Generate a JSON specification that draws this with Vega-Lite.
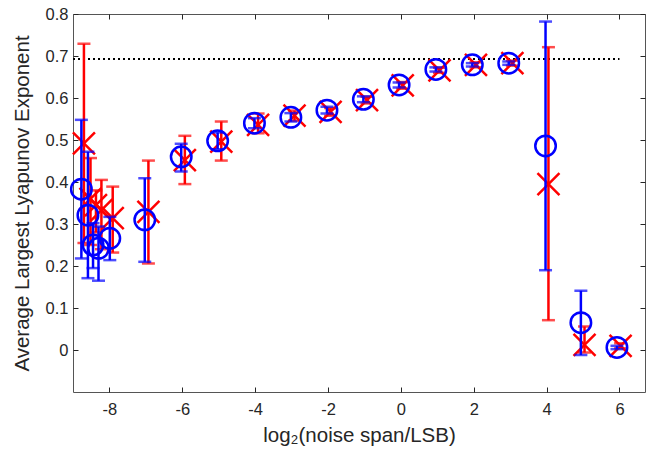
{
  "$schema": "https://vega.github.io/schema/vega-lite/v6.json",
  "width": 572,
  "height": 378,
  "autosize": {"type": "none"},
  "padding": {"left": 73, "top": 14, "right": 7, "bottom": 67},
  "background": "white",
  "config": {
    "view": {"stroke": "#555555", "strokeWidth": 1},
    "axis": {
      "grid": false,
      "domain": false,
      "tickColor": "#262626",
      "tickSize": -5,
      "tickWidth": 1,
      "labelColor": "#262626",
      "labelFont": "Liberation Sans",
      "labelFontSize": 16.5,
      "titleFont": "Liberation Sans",
      "titleFontSize": 20.5,
      "titleFontWeight": "normal",
      "titleColor": "#262626"
    }
  },
  "datasets": {
    "blue": [
      {"x": -8.77, "y": 0.383, "lo": 0.218, "hi": 0.548},
      {"x": -8.59, "y": 0.321, "lo": 0.171, "hi": 0.472},
      {"x": -8.45, "y": 0.250, "lo": 0.195, "hi": 0.302},
      {"x": -8.30, "y": 0.242, "lo": 0.165, "hi": 0.294},
      {"x": -7.99, "y": 0.266, "lo": 0.214, "hi": 0.317},
      {"x": -7.03, "y": 0.310, "lo": 0.210, "hi": 0.409},
      {"x": -6.03, "y": 0.460, "lo": 0.425, "hi": 0.491},
      {"x": -5.03, "y": 0.498, "lo": 0.478, "hi": 0.518},
      {"x": -4.02, "y": 0.540, "lo": 0.528, "hi": 0.552},
      {"x": -3.02, "y": 0.554, "lo": 0.544, "hi": 0.564},
      {"x": -2.03, "y": 0.571, "lo": 0.563, "hi": 0.579},
      {"x": -1.03, "y": 0.597, "lo": 0.590, "hi": 0.604},
      {"x": -0.05, "y": 0.631, "lo": 0.625, "hi": 0.637},
      {"x": 0.96, "y": 0.668, "lo": 0.663, "hi": 0.673},
      {"x": 1.96, "y": 0.679, "lo": 0.675, "hi": 0.683},
      {"x": 2.96, "y": 0.683, "lo": 0.679, "hi": 0.687},
      {"x": 3.97, "y": 0.486, "lo": 0.190, "hi": 0.782},
      {"x": 4.94, "y": 0.065, "lo": -0.012, "hi": 0.141},
      {"x": 5.93, "y": 0.006, "lo": 0.002, "hi": 0.010}
    ],
    "red": [
      {"x": -8.70, "y": 0.492, "lo": 0.255, "hi": 0.729},
      {"x": -8.52, "y": 0.360, "lo": 0.250, "hi": 0.457},
      {"x": -8.37, "y": 0.345, "lo": 0.280, "hi": 0.380},
      {"x": -8.22, "y": 0.333, "lo": 0.240, "hi": 0.405},
      {"x": -7.91, "y": 0.314, "lo": 0.232, "hi": 0.389},
      {"x": -6.93, "y": 0.329, "lo": 0.206, "hi": 0.451},
      {"x": -5.93, "y": 0.452, "lo": 0.395, "hi": 0.510},
      {"x": -4.93, "y": 0.496, "lo": 0.451, "hi": 0.544},
      {"x": -3.92, "y": 0.536, "lo": 0.516, "hi": 0.563},
      {"x": -2.92, "y": 0.558, "lo": 0.546, "hi": 0.570},
      {"x": -1.93, "y": 0.567, "lo": 0.558, "hi": 0.576},
      {"x": -0.93, "y": 0.595, "lo": 0.587, "hi": 0.603},
      {"x": 0.05, "y": 0.630, "lo": 0.622, "hi": 0.638},
      {"x": 1.06, "y": 0.666, "lo": 0.660, "hi": 0.672},
      {"x": 2.06, "y": 0.679, "lo": 0.673, "hi": 0.685},
      {"x": 3.06, "y": 0.683, "lo": 0.677, "hi": 0.689},
      {"x": 4.05, "y": 0.395, "lo": 0.071, "hi": 0.721},
      {"x": 5.04, "y": 0.012, "lo": -0.006, "hi": 0.056},
      {"x": 6.03, "y": 0.010, "lo": 0.004, "hi": 0.016}
    ],
    "ref": [{"x": -9, "x2": 6, "y": 0.693}]
  },
  "layer": [
    {
      "data": {"name": "ref"},
      "mark": {"type": "rule", "color": "black", "strokeWidth": 2, "strokeDash": [2, 3]},
      "encoding": {
        "x": {"field": "x", "type": "quantitative", "scale": {"domain": [-9, 6.7], "nice": false, "zero": false},
              "axis": {"title": "log₂(noise span/LSB)", "values": [-8, -6, -4, -2, 0, 2, 4, 6],
                       "labelExpr": "datum.value < 0 ? '-' + abs(datum.value) : '' + datum.value",
                       "labelPadding": 14, "titlePadding": 8}},
        "x2": {"field": "x2"},
        "y": {"field": "y", "type": "quantitative", "scale": {"domain": [-0.1, 0.8], "nice": false, "zero": false},
              "axis": {"title": "Average Largest Lyapunov Exponent", "values": [0, 0.1, 0.2, 0.3, 0.4, 0.5, 0.6, 0.7, 0.8],
                       "labelExpr": "datum.value == 0 ? '0' : format(datum.value, '.1f')",
                       "labelPadding": 10, "titlePadding": 13}}
      }
    },
    {
      "data": {"name": "ref"},
      "mark": {"type": "rule", "opacity": 0},
      "encoding": {
        "x": {"field": "x", "type": "quantitative", "scale": {"domain": [-9, 6.7], "nice": false, "zero": false},
              "axis": {"orient": "top", "labels": false, "title": null, "values": [-8, -6, -4, -2, 0, 2, 4, 6]}},
        "y": {"field": "y", "type": "quantitative", "scale": {"domain": [-0.1, 0.8], "nice": false, "zero": false},
              "axis": {"orient": "right", "labels": false, "title": null, "values": [0, 0.1, 0.2, 0.3, 0.4, 0.5, 0.6, 0.7, 0.8]}}
      }
    },
    {
      "data": {"name": "red"},
      "mark": {"type": "rule", "color": "#ff0000", "strokeWidth": 2.5},
      "encoding": {
        "x": {"field": "x", "type": "quantitative", "axis": null},
        "y": {"field": "lo", "type": "quantitative", "axis": null},
        "y2": {"field": "hi"}
      }
    },
    {
      "data": {"name": "red"},
      "mark": {"type": "tick", "orient": "horizontal", "color": "#ff0000", "size": 13, "thickness": 2.5},
      "encoding": {
        "x": {"field": "x", "type": "quantitative", "axis": null},
        "y": {"field": "lo", "type": "quantitative", "axis": null}
      }
    },
    {
      "data": {"name": "red"},
      "mark": {"type": "tick", "orient": "horizontal", "color": "#ff0000", "size": 13, "thickness": 2.5},
      "encoding": {
        "x": {"field": "x", "type": "quantitative", "axis": null},
        "y": {"field": "hi", "type": "quantitative", "axis": null}
      }
    },
    {
      "data": {"name": "red"},
      "mark": {"type": "point", "shape": "M-1,-1L1,1M1,-1L-1,1", "filled": false, "stroke": "#ff0000", "strokeWidth": 2.5, "size": 484, "opacity": 1},
      "encoding": {
        "x": {"field": "x", "type": "quantitative", "axis": null},
        "y": {"field": "y", "type": "quantitative", "axis": null}
      }
    },
    {
      "data": {"name": "blue"},
      "mark": {"type": "rule", "color": "#0000ff", "strokeWidth": 2.5},
      "encoding": {
        "x": {"field": "x", "type": "quantitative", "axis": null},
        "y": {"field": "lo", "type": "quantitative", "axis": null},
        "y2": {"field": "hi"}
      }
    },
    {
      "data": {"name": "blue"},
      "mark": {"type": "tick", "orient": "horizontal", "color": "#0000ff", "size": 13, "thickness": 2.5},
      "encoding": {
        "x": {"field": "x", "type": "quantitative", "axis": null},
        "y": {"field": "lo", "type": "quantitative", "axis": null}
      }
    },
    {
      "data": {"name": "blue"},
      "mark": {"type": "tick", "orient": "horizontal", "color": "#0000ff", "size": 13, "thickness": 2.5},
      "encoding": {
        "x": {"field": "x", "type": "quantitative", "axis": null},
        "y": {"field": "hi", "type": "quantitative", "axis": null}
      }
    },
    {
      "data": {"name": "blue"},
      "mark": {"type": "point", "shape": "circle", "filled": false, "stroke": "#0000ff", "strokeWidth": 2.5, "size": 420, "opacity": 1},
      "encoding": {
        "x": {"field": "x", "type": "quantitative", "axis": null},
        "y": {"field": "y", "type": "quantitative", "axis": null}
      }
    }
  ],
  "resolve": {"axis": {"x": "independent", "y": "independent"}}
}
